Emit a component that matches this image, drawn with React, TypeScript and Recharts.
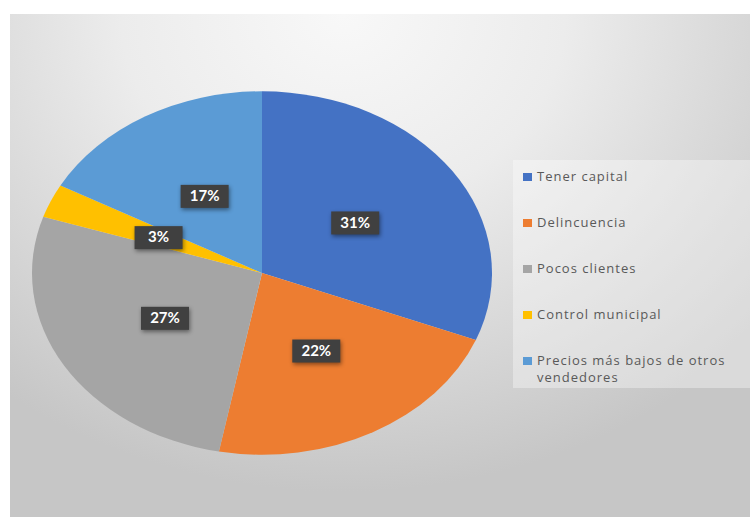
import { PieChart, Pie, Cell, Legend } from "recharts";

const categories = [
  "Tener capital",
  "Delincuencia",
  "Pocos clientes",
  "Control municipal",
  "Precios más bajos de otros vendedores",
];
const percentages = [31, 22, 27, 3, 17];
const sliceColors = ["#4472c4", "#ed7d31", "#a5a5a5", "#ffc000", "#5b9bd5"];

const data = categories.map((name, i) => ({ name, value: percentages[i] }));

const W = 740;
const H = 503;
const CX = 252;
const CY = 259;
const R = 230;
// pie in the reference is an ellipse, squash it vertically
const K = 0.79;
const RADIAN = Math.PI / 180;

function renderLabel(props: any) {
  const { cx, cy, midAngle, outerRadius, value } = props;
  const r = outerRadius * 0.49;
  const x = cx + r * Math.cos(-midAngle * RADIAN);
  const y0 = cy + r * Math.sin(-midAngle * RADIAN);
  const y = cy + (y0 - cy) * K;
  return (
    <g>
      <rect
        x={x - 24}
        y={y - 11.5}
        width={48}
        height={23}
        fill="#404040"
        style={{ filter: "drop-shadow(1px 2px 2px rgba(0,0,0,0.45))" }}
      />
      <text
        x={x}
        y={y + 1}
        textAnchor="middle"
        dominantBaseline="middle"
        fill="#ffffff"
        fontFamily="Lato, 'Open Sans', sans-serif"
        fontWeight={700}
        fontSize={15}
      >
        {`${value}%`}
      </text>
    </g>
  );
}

function renderLegend(props: any) {
  const payload: any[] = props.payload || [];
  // keep the series order instead of recharts' alphabetical sort
  const items = categories
    .map((c) => payload.find((p) => p.value === c))
    .filter(Boolean);
  return (
    <div style={{ paddingTop: 8 }}>
      {items.map((entry: any) => (
        <div
          key={entry.value}
          style={{
            display: "flex",
            alignItems: "flex-start",
            height: 46,
            paddingLeft: 10,
          }}
        >
          <span
            style={{
              width: 9,
              height: 8,
              marginTop: 5,
              background: entry.color,
              flex: "0 0 auto",
            }}
          />
          <span
            style={{
              marginLeft: 5,
              width: 213,
              fontFamily: "'Open Sans', sans-serif",
              fontSize: 13,
              letterSpacing: 1,
              lineHeight: "17px",
              color: "#595959",
            }}
          >
            {entry.value}
          </span>
        </div>
      ))}
    </div>
  );
}

export default function App() {
  return (
    <div
      style={{
        position: "absolute",
        left: 0,
        top: 0,
        width: 750,
        height: 517,
        background: "#ffffff",
        overflow: "hidden",
      }}
    >
      <style>{`
        .ellipse-pie .recharts-pie-sector {
          transform-box: view-box;
          transform-origin: ${CX}px ${CY}px;
          transform: scaleY(${K});
        }
        .ellipse-pie .recharts-pie-sectors {
          filter: drop-shadow(0 2px 5px rgba(0,0,0,0.25));
        }
      `}</style>
      <div
        className="ellipse-pie"
        style={{
          position: "absolute",
          left: 10,
          top: 14,
          width: W,
          height: H,
          background:
            "radial-gradient(ellipse 75% 95% at 45% 0%, #f8f8f8 0%, #ececec 40%, #d6d6d6 75%, #c6c6c6 100%)",
        }}
      >
        <PieChart width={W} height={H} margin={{ top: 0, right: 0, bottom: 0, left: 0 }}>
          <Pie
            data={data}
            dataKey="value"
            nameKey="name"
            cx={CX}
            cy={CY}
            outerRadius={R}
            startAngle={90}
            endAngle={-270}
            stroke="none"
            label={renderLabel}
            labelLine={false}
            isAnimationActive={false}
          >
            {data.map((d, i) => (
              <Cell key={d.name} fill={sliceColors[i]} />
            ))}
          </Pie>
          <Legend
            layout="vertical"
            align="right"
            verticalAlign="top"
            content={renderLegend}
            wrapperStyle={{
              position: "absolute",
              left: 503,
              top: 146,
              width: 237,
              height: 228,
              background: "rgba(255,255,255,0.35)",
            }}
          />
        </PieChart>
      </div>
    </div>
  );
}
